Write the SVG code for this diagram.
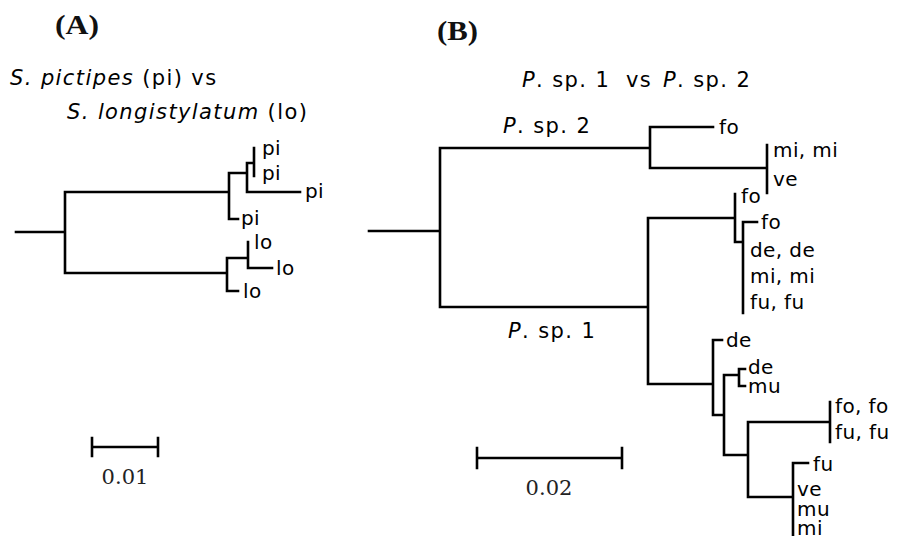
<svg xmlns="http://www.w3.org/2000/svg" width="901" height="536" viewBox="0 0 901 536">
<style>
.br{fill:none;stroke:#000;stroke-width:2.6;stroke-linecap:square}
.lf{font-family:"DejaVu Sans",Verdana,sans-serif;font-size:20px;letter-spacing:0.4px;fill:#000}
.tt{font-family:"DejaVu Sans",Verdana,sans-serif;font-size:21px;letter-spacing:1.4px;fill:#000}
.it{font-style:italic}
.pn{font-family:"Liberation Serif","Times New Roman",serif;font-weight:bold;font-size:27px;fill:#111}
.sc{font-family:"DejaVu Serif",Cambria,serif;font-size:21px;fill:#222}
</style>
<rect width="901" height="536" fill="#fff"/>
<g id="panelA-labels">
<text class="pn" x="55" y="34" textLength="44" lengthAdjust="spacingAndGlyphs">(A)</text>
<text class="tt" x="10" y="85"><tspan class="it">S. pictipes</tspan> (pi) vs</text>
<text class="tt" x="67" y="119"><tspan class="it">S. longistylatum</tspan> (lo)</text>
</g>
<g id="panelB-labels">
<text class="pn" x="437" y="40" textLength="41" lengthAdjust="spacingAndGlyphs">(B)</text>
<text class="tt" x="522" y="87"><tspan class="it">P</tspan>. sp. 1</text>
<text class="tt" x="626" y="87">vs</text>
<text class="tt" x="663" y="87"><tspan class="it">P</tspan>. sp. 2</text>
<text class="tt" x="503" y="133"><tspan class="it">P</tspan>. sp. 2</text>
<text class="tt" x="508" y="338"><tspan class="it">P</tspan>. sp. 1</text>
</g>
<g id="connectors">
<path class="br" d="M16,232 H65 M65,192 V273 M65,192 H229 M229,173 V219 M229,219 H238 M229,173 H247 M247,163 V192 M247,192 H300 M247,163 H254 M254,148 V176 M65,273 H227 M227,258 V291 M227,291 H238 M227,258 H248 M248,242 V268 M248,268 H272"/>
<path class="br" d="M369,231 H440 M440,148 V307 M440,148 H650 M650,127 V168 M650,127 H713 M650,168 H767 M767,145 V193 M440,307 H648 M648,218 V384 M648,218 H735 M735,194 V242 M735,242 H743 M743,222 V313 M743,222 H757 M648,384 H713 M713,340 V415 M713,340 H722 M713,415 H724 M724,375 V455 M724,375 H739 M739,369 V386 M739,369 H745 M739,386 H745 M724,455 H748 M748,422 V497 M748,422 H830 M830,402 V442 M748,497 H793 M793,463 V540 M793,463 H808"/>
</g>
<g id="leafA">
<g id="a-pi1"><text class="lf" x="262" y="155">pi</text></g>
<g id="a-pi2"><text class="lf" x="262" y="180">pi</text></g>
<g id="a-pi3"><text class="lf" x="305" y="198">pi</text></g>
<g id="a-pi4"><text class="lf" x="241" y="225">pi</text></g>
<g id="a-lo1"><text class="lf" x="254" y="249">lo</text></g>
<g id="a-lo2"><text class="lf" x="276" y="275">lo</text></g>
<g id="a-lo3"><text class="lf" x="243" y="298">lo</text></g>
</g>
<g id="leafB">
<g id="b-fo1"><text class="lf" x="719" y="134">fo</text></g>
<g id="b-mimi1"><text class="lf" x="773" y="157">mi, mi</text></g>
<g id="b-ve1"><text class="lf" x="773" y="186">ve</text></g>
<g id="b-fo2"><text class="lf" x="741" y="203">fo</text></g>
<g id="b-fo3"><text class="lf" x="761" y="229">fo</text></g>
<g id="b-dede"><text class="lf" x="750" y="257">de, de</text></g>
<g id="b-mimi2"><text class="lf" x="750" y="283">mi, mi</text></g>
<g id="b-fufu1"><text class="lf" x="750" y="309">fu, fu</text></g>
<g id="b-de1"><text class="lf" x="726" y="347">de</text></g>
<g id="b-de2"><text class="lf" x="748" y="374">de</text></g>
<g id="b-mu1"><text class="lf" x="748" y="393">mu</text></g>
<g id="b-fofo"><text class="lf" x="835" y="413">fo, fo</text></g>
<g id="b-fufu2"><text class="lf" x="835" y="439">fu, fu</text></g>
<g id="b-fu"><text class="lf" x="813" y="471">fu</text></g>
<g id="b-ve2"><text class="lf" x="797" y="496">ve</text></g>
<g id="b-mu2"><text class="lf" x="797" y="516">mu</text></g>
<g id="b-mi"><text class="lf" x="797" y="535">mi</text></g>
</g>
<g id="scalebars">
<path class="br" d="M92,447 H158 M92,438 V456 M158,438 V456"/>
<text class="sc" x="125" y="484" text-anchor="middle">0.01</text>
<path class="br" d="M477,458 H622 M477,448 V468 M622,448 V468"/>
<text class="sc" x="549" y="495" text-anchor="middle">0.02</text>
</g>
</svg>
